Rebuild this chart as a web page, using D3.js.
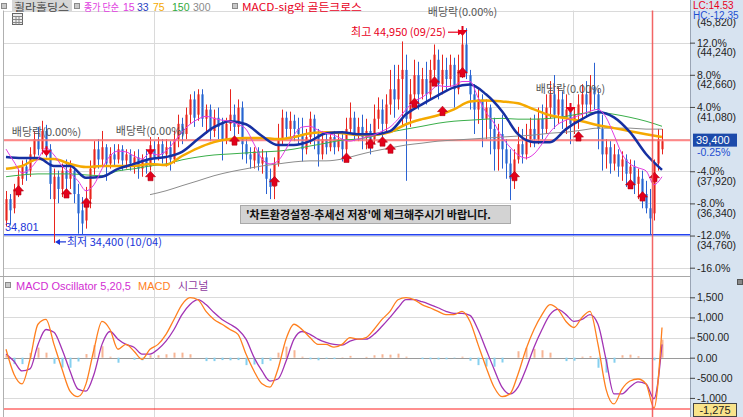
<!DOCTYPE html>
<html>
<head>
<meta charset="utf-8">
<script src="https://cdn.jsdelivr.net/npm/d3@7"></script>
<style>
body { margin: 0; background: #fff; overflow: hidden; }
svg { display: block; }
text { font-family: "Liberation Sans", Arial, sans-serif; }
.kr { font-family: "Noto Sans CJK KR", "Noto Sans", sans-serif; }
</style>
</head>
<body>
<div id="chart-area"></div>
<script>
// daily candles (oldest -> newest)
var open = [35500,36550,36100,37050,37550,38150,37950,38750,39500,39000,39900,39000,36550,37650,37050,37950,37550,37950,36800,36000,
  35500,36550,38050,39000,38500,39100,38300,38750,38500,39000,38450,38750,38300,38600,38050,38450,38150,39000,38600,39250,
  38750,39100,38500,39500,40250,39750,40700,41450,40700,41700,40500,40950,39900,40550,40250,39500,40250,40700,40100,41050,
  39250,38750,38450,38900,38300,38600,37550,37150,38300,39500,40550,40000,40400,40000,39750,39000,39600,40500,39750,38750,
  39500,39100,39600,39100,39500,39000,40000,40550,39750,40100,39600,39900,39500,40500,40950,40250,41200,41950,41450,42450,
  42900,40500,41700,42650,41700,42450,41700,42900,43400,42200,42900,42450,43150,41950,42900,44150,42650,41700,40950,41450,
  40500,41050,40000,39000,39750,39000,38300,37550,38500,39250,38750,39500,40000,39500,40500,40000,41050,41700,40700,41450,
  40550,40950,40250,40700,41200,41700,41200,42050,41700,40000,38750,39100,38300,38750,38150,38500,37800,38150,37300,37550,
  36800,36100,35850,38300,39000];
var high = [36950,36800,37300,38050,38450,38500,39100,39900,40100,40400,40200,39250,38050,37950,38300,38500,38450,38150,37300,36650,
  37150,38450,39400,39500,39900,39250,39100,39250,39250,39200,39000,39000,38900,39000,38750,39000,39600,39400,39600,39500,
  39500,39400,39900,40700,40550,41050,41700,41850,41950,41950,41200,41200,40950,41050,40550,40550,41950,41200,41450,41350,
  39500,39100,39100,39100,39000,38900,38050,38600,40250,40950,40850,40850,40700,40550,40550,40000,40850,40700,40000,39900,
  39750,39850,39900,39750,39900,40550,41300,40850,40550,40700,40500,40250,41200,41550,41450,41700,42900,43150,43150,44300,
  43650,42450,43400,43300,43000,43300,43400,44150,43900,43650,43500,43650,43500,43650,44700,44950,42900,42200,41950,41700,
  41450,41200,40550,40250,40700,39500,39000,39000,40100,40000,40250,40550,40700,41050,41200,41700,42350,42650,42050,41850,
  41700,41200,41050,41700,42200,42350,42650,43250,41950,40700,39500,39400,39250,39000,38900,38750,38500,38450,38050,37950,
  37450,37050,38500,40000,40000];
var low = [35200,35300,35850,36650,37250,37450,37650,38500,38700,38750,38600,36550,34400,36350,36650,36950,37050,36350,34850,34800,
  35100,36100,37750,38050,38150,37450,38050,38150,38300,37950,38050,37950,37800,37550,37650,37800,37950,38300,38450,38300,
  38150,37950,38300,39100,39250,39500,40250,40100,40400,40100,39750,39400,39600,39500,38450,39250,39900,39500,39750,38500,
  38300,38050,38050,37950,37800,36800,36550,36550,38150,39250,39500,39500,39400,39250,38400,38750,39250,39000,38150,38500,
  38750,38900,38750,38900,38400,38750,39750,39400,39400,39000,39000,38750,39250,40000,39600,39750,40700,40550,40950,40100,
  37450,40100,41050,40950,41450,41200,41450,42350,41450,41700,41850,42050,41050,41700,42500,42450,40950,39750,40250,39100,
  39500,38750,37950,37950,38050,37550,36500,37050,38300,38300,38500,39100,39100,39250,39500,39750,40500,40000,40250,40000,
  39750,39250,39750,40000,40500,40550,40850,40950,39000,37950,38050,37800,37950,37650,37450,37150,37050,36800,36550,36100,
  35850,34800,35500,37950,38750];
var close = [36550,36000,37050,37650,38150,37800,38750,39500,39000,39900,39000,37300,37650,37050,37950,37550,38050,36800,35850,35350,
  36550,38050,39000,38500,39100,38300,38750,38500,39000,38450,38750,38300,38600,38050,38500,38150,39000,38600,39250,38750,
  39100,38500,39500,40250,39750,40700,41450,40550,41700,40500,40950,39900,40550,40100,39500,40250,40700,40100,41050,39250,
  38750,38500,38900,38300,38600,37550,37150,38300,39500,40550,40000,40400,40000,39750,39000,39600,40500,39750,38750,39500,
  39100,39600,39100,39500,39000,40000,40550,39750,40100,39600,39900,39500,40500,40950,40250,41200,41950,41450,42450,42900,
  40500,41700,42650,41700,42450,41700,42900,43650,42200,42900,42450,43150,41950,42900,44150,42800,41700,40950,41450,40500,
  41050,40000,39000,39750,39000,38300,37550,38500,39250,38750,39500,40000,39500,40500,40000,41050,41700,40700,41450,40550,
  40950,40250,40700,41200,41700,41200,42050,41700,40000,38750,39100,38300,38750,38150,38500,37800,38150,37300,37650,36800,
  36100,35600,38300,39500,39400];

// moving averages: ma15 every 2nd candle, the others every 4th candle
var ma15 = [39010,38380,37840,38040,38520,39060,38720,38180,37840,37450,36960,37260,38040,38670,38910,38870,38670,38520,38820,38720,
  38910,39350,39840,40230,40480,40620,40520,40430,40380,40230,39990,39260,38520,38280,38430,39010,39700,40090,40130,39940,
  39790,39700,39500,39400,39500,39600,39700,39890,40090,40480,40960,41350,41550,41840,42130,42080,42130,42330,42330,41550,
  40820,40290,39600,39110,38720,38570,38770,39260,39840,40230,40430,40570,40720,40870,40960,40570,39700,38770,38280,38090,
  37940,37260,37650];
var ma33 = [38620,38570,38570,38180,38180,37600,37650,38040,38280,38520,38620,38870,39500,40090,40380,40230,39650,39210,39210,39400,
  39790,39840,39740,39740,39890,40720,41210,41650,42040,42180,41700,40870,39740,39350,39350,39990,40480,40820,40570,39840,
  38770,37990];
var ma75 = [38040,38180,38520,38520,38280,38130,38180,38180,38180,38280,38230,38670,39060,39350,39500,39550,39550,39500,39600,39790,
  39840,39790,39700,39700,39840,40230,40480,40670,40960,41350,41400,41350,41260,40960,40670,40520,40380,40180,40040,39890,
  39740,39600];
var ma150 = [37650,37740,37790,37790,37790,37740,37700,37940,38040,38180,38280,38480,38620,38720,38770,38820,38870,38910,39010,39160,
  39300,39450,39500,39650,39840,39990,40130,40280,40380,40430,40480,40520,40480,40480,40520,40620,40760,40820,40720,40570,
  40380,40130];
var ma300 = [36770,36960,37210,37450,37700,37890,38040,38180,38280,38380,38430,38430,38520,38720,38910,39060,39210,39300,39400,39450,
  39500,39550,39600,39650,39700,39790,39840,39940,40040,40040,40040,39990,39990];
var ma300Start = 36;

// MACD 5,20,5 (every 2nd candle)
var macd = [210,-410,-650,-40,830,950,330,-280,-830,-970,-650,210,900,700,210,330,160,-40,210,330,
  580,950,1320,1490,1440,1150,950,830,700,580,90,-330,-650,-730,-280,460,830,700,500,330,
  330,260,330,500,460,500,700,950,1150,1440,1490,1440,1320,1240,1150,1070,1070,1150,900,330,
  -230,-730,-970,-900,-410,210,700,1070,1320,1200,900,750,1000,1150,330,-780,-1150,-780,-580,-530,
  -650,-1250,750];
var signal = [90,-90,-330,-280,330,700,630,210,-330,-780,-830,-410,330,650,460,330,260,90,90,210,
  410,700,1070,1320,1440,1320,1120,950,830,700,460,10,-330,-580,-530,-90,460,650,580,460,
  380,330,310,410,460,460,580,780,1000,1240,1440,1440,1390,1320,1240,1150,1100,1100,1050,700,
  210,-280,-730,-900,-730,-280,260,700,1070,1200,1070,900,950,1070,830,-40,-900,-900,-730,-600,
  -650,-1020,330];
var osc = [60,-160,-160,120,250,125,-150,-245,-250,-95,90,310,285,25,-125,0,-50,-65,60,60,
  85,125,125,85,0,-85,-85,-60,-65,-60,-185,-170,-160,-75,125,275,185,25,-40,-65,
  -25,-35,10,45,0,20,60,85,75,100,25,0,-35,-40,-45,-40,-15,25,-75,-185,
  -220,-225,-120,0,160,245,220,185,125,0,-85,-75,25,40,-250,-370,-125,60,75,35,
  0,-65,450];

// signals
var buyIdx = [3,15,20,36,57,67,85,91,94,96,102,107,109,114,127,143,156,159,162];
var buyPrice = [36950,36800,36350,37650,39400,37400,38550,39250,39350,39000,41250,42300,40850,42750,37650,39600,37250,36650,37600];
var exDivIdx = [10,36,114,141];
var exDivPrice = [38800,38850,44720,40930];

var basePrice = 39500, lastPrice = 39400, lowMark = 34801;
var pctTicks = [16,12,8,4,0,-4,-8,-12,-16];
var macdTicks = [1500,1000,500,0,-500,-1000];
var macdTickText = ["1,500","1,000","500.00","0.00","-500.00","-1,000"];
var macdCursor = -1275;

var W = 743, H = 417;
var left = 4, right = 690, mainTop = 10.5, mainBot = 270, subTop = 277;

var svg = d3.select("#chart-area").append("svg")
	.attr("width", W).attr("height", H);

var x = d3.scaleLinear().domain([0, close.length - 1]).range([6, 662]);
var y = d3.scaleLinear().domain([basePrice * 0.84, basePrice * 1.16]).range([267.7, 10.5]);
var yM = d3.scaleLinear().domain([macdCursor, 1500]).range([409, 297.3]);

var defs = svg.append("defs");
defs.append("clipPath").attr("id", "clipMain").append("rect")
	.attr("x", left).attr("y", mainTop).attr("width", right - left).attr("height", mainBot - mainTop);
defs.append("clipPath").attr("id", "clipSub").append("rect")
	.attr("x", left).attr("y", subTop).attr("width", right - left).attr("height", H - subTop);

// right axis background
svg.append("rect").attr("x", right).attr("y", 0).attr("width", W - right).attr("height", H).attr("fill", "#d7e3f0");

// grid
svg.append("g").selectAll("line").data(pctTicks).enter().append("line")
	.attr("x1", left).attr("x2", right)
	.attr("y1", function(p) { return Math.round(y(basePrice * (1 + p / 100))) + 0.5; })
	.attr("y2", function(p) { return Math.round(y(basePrice * (1 + p / 100))) + 0.5; })
	.attr("stroke", "#dadada");
svg.append("g").selectAll("line").data(macdTicks).enter().append("line")
	.attr("x1", left).attr("x2", right)
	.attr("y1", function(d) { return Math.round(yM(d)) + 0.5; })
	.attr("y2", function(d) { return Math.round(yM(d)) + 0.5; })
	.attr("stroke", function(d) { return d === 0 ? "#9a9a9a" : "#dadada"; });
[154.5, 573.5].forEach(function(gx) {
	svg.append("line").attr("x1", gx).attr("x2", gx).attr("y1", mainTop).attr("y2", H).attr("stroke", "#dadada");
});
// frame lines
svg.append("line").attr("x1", 3.5).attr("x2", 3.5).attr("y1", mainTop).attr("y2", H).attr("stroke", "#b0b0b0");
svg.append("line").attr("x1", 0).attr("x2", right).attr("y1", 276.5).attr("y2", 276.5).attr("stroke", "#a8a8a8");
svg.append("line").attr("x1", right + 0.5).attr("x2", right + 0.5).attr("y1", 0).attr("y2", H).attr("stroke", "#9aa5b5");

// ---------- main panel ----------
var main = svg.append("g").attr("clip-path", "url(#clipMain)");

// lowest-line
main.append("line").attr("x1", left).attr("x2", right)
	.attr("y1", y(lowMark)).attr("y2", y(lowMark))
	.attr("stroke", "#2343f0").attr("stroke-width", 1.5);

var candles = d3.range(close.length).map(function(i) {
	return { i: i, o: open[i], h: high[i], l: low[i], c: close[i] };
});

var cg = main.append("g").selectAll("g").data(candles).enter().append("g");
cg.append("rect")
	.attr("x", function(d) { return x(d.i) - 1; })
	.attr("width", 3)
	.attr("y", function(d) { return y(Math.max(d.o, d.c)); })
	.attr("height", function(d) { return Math.max(1, Math.abs(y(d.o) - y(d.c))); })
	.attr("fill", function(d) { return d.c >= d.o ? "#f3847e" : "#79a5e3"; });
cg.append("line")
	.attr("x1", function(d) { return x(d.i) + 0.5; })
	.attr("x2", function(d) { return x(d.i) + 0.5; })
	.attr("y1", function(d) { return y(d.h); })
	.attr("y2", function(d) { return y(d.l); })
	.attr("stroke", function(d) { return d.c >= d.o ? "#e8241e" : "#2a62d2"; });

// current price line
main.append("line").attr("x1", left).attr("x2", right)
	.attr("y1", y(lastPrice) - 1).attr("y2", y(lastPrice) - 1)
	.attr("stroke", "#ff7474").attr("stroke-width", 2).attr("opacity", 0.85);

function maPath(vals, step, start) {
	return d3.line()
		.x(function(d, k) { return x(start + k * step); })
		.y(function(d) { return y(d); })
		.curve(d3.curveMonotoneX)(vals);
}
main.append("path").attr("d", maPath(ma300, 4, ma300Start)).attr("fill", "none").attr("stroke", "#8c8c8c").attr("stroke-width", 1);
main.append("path").attr("d", maPath(ma150, 4, 0)).attr("fill", "none").attr("stroke", "#3aae4a").attr("stroke-width", 1);
main.append("path").attr("d", maPath(ma75, 4, 0)).attr("fill", "none").attr("stroke", "#f5a900").attr("stroke-width", 2.5);
main.append("path").attr("d", maPath(ma33, 4, 0)).attr("fill", "none").attr("stroke", "#1630a2").attr("stroke-width", 2.5);
main.append("path").attr("d", maPath(ma15, 2, 0)).attr("fill", "none").attr("stroke", "#e23de0").attr("stroke-width", 1);

// buy arrows (MACD-sig golden cross)
main.append("g").selectAll("path").data(buyIdx).enter().append("path")
	.attr("d", function(idx, k) {
		var cx = x(idx) + 0.5, cy = y(buyPrice[k]);
		return "M" + (cx - 5) + "," + cy + "L" + cx + "," + (cy - 5.5) + "L" + (cx + 5) + "," + cy +
			"L" + (cx + 2.5) + "," + cy + "L" + (cx + 2.5) + "," + (cy + 4) + "L" + (cx - 2.5) + "," + (cy + 4) +
			"L" + (cx - 2.5) + "," + cy + "Z";
	})
	.attr("fill", "#e3001b").attr("stroke", "#b00012").attr("stroke-width", 0.6);

// ex-dividend markers
exDivIdx.forEach(function(idx, k) {
	var cx = x(idx) + 0.5, cy = y(exDivPrice[k]);
	main.append("path")
		.attr("d", "M" + (cx - 1) + "," + (cy - 7) + "L" + (cx + 1) + "," + (cy - 7) + "L" + (cx + 1) + "," + (cy - 3) +
			"L" + (cx + 5) + "," + (cy - 3) + "L" + cx + "," + (cy + 3) + "L" + (cx - 5) + "," + (cy - 3) +
			"L" + (cx - 1) + "," + (cy - 3) + "Z")
		.attr("fill", "#e3001b");
	svg.append("text").attr("class", "kr")
		.attr("x", cx).attr("y", cy - 17)
		.attr("text-anchor", "middle")
		.attr("font-size", "11px")
		.attr("fill", "#555")
		.text("배당락(0.00%)");
});

// high / low annotations
var hiIdx = high.indexOf(d3.max(high)), loIdx = low.indexOf(d3.min(low));
svg.append("text").attr("class", "kr")
	.attr("x", x(hiIdx) - 20).attr("y", y(d3.max(high)) + 8)
	.attr("text-anchor", "end").attr("font-size", "11px").attr("fill", "#e8001c")
	.text("최고 " + d3.format(",")(d3.max(high)) + " (09/25)");
svg.append("line").attr("x1", x(hiIdx) - 18).attr("x2", x(hiIdx) - 6)
	.attr("y1", y(d3.max(high)) + 4).attr("y2", y(d3.max(high)) + 4)
	.attr("stroke", "#e8001c").attr("stroke-width", 1.2);
svg.append("path")
	.attr("d", "M" + (x(hiIdx) - 3) + "," + (y(d3.max(high)) + 4) + "l-5,-3v6z")
	.attr("fill", "#e8001c");

svg.append("path")
	.attr("d", "M" + (x(loIdx) + 1) + "," + (y(d3.min(low)) - 1) + "l5,-3v6z")
	.attr("fill", "#1a35d8");
svg.append("line").attr("x1", x(loIdx) + 5).attr("x2", x(loIdx) + 12)
	.attr("y1", y(d3.min(low)) - 1).attr("y2", y(d3.min(low)) - 1)
	.attr("stroke", "#1a35d8").attr("stroke-width", 1.2);
svg.append("text").attr("class", "kr")
	.attr("x", x(loIdx) + 13).attr("y", y(d3.min(low)) + 3)
	.attr("font-size", "11px").attr("fill", "#1a35d8")
	.text("최저 " + d3.format(",")(d3.min(low)) + " (10/04)");

svg.append("text")
	.attr("x", 5).attr("y", y(lowMark) - 4)
	.attr("font-size", "11px").attr("fill", "#1a35d8")
	.text(d3.format(",")(lowMark));

// notice box
svg.append("rect").attr("x", 240.5).attr("y", 205.5).attr("width", 270).attr("height", 18)
	.attr("fill", "#d3d3d3").attr("stroke", "#a9a9a9");
svg.append("text").attr("class", "kr")
	.attr("x", 246).attr("y", 218.5)
	.attr("font-size", "11px").attr("font-weight", "bold").attr("fill", "#111")
	.text("'차트환경설정-추세선 저장'에 체크해주시기 바랍니다.");

// ---------- MACD panel ----------
var sub = svg.append("g").attr("clip-path", "url(#clipSub)");
sub.append("g").selectAll("rect").data(osc).enter().append("rect")
	.attr("x", function(d, k) { return x(k * 2) - 0.5; })
	.attr("width", 2)
	.attr("y", function(d) { return Math.min(yM(d), yM(0)); })
	.attr("height", function(d) { return Math.abs(yM(d) - yM(0)); })
	.attr("fill", function(d) { return d >= 0 ? "#f7b595" : "#85d0ef"; });

var mLine = d3.line()
	.x(function(d, k) { return x(k * 2); })
	.y(function(d) { return yM(d); })
	.curve(d3.curveMonotoneX);
sub.append("path").attr("d", mLine(signal)).attr("fill", "none").attr("stroke", "#a233b4").attr("stroke-width", 1.3);
sub.append("path").attr("d", mLine(macd)).attr("fill", "none").attr("stroke", "#ff7f1e").attr("stroke-width", 1.3);

sub.append("line").attr("x1", left).attr("x2", right)
	.attr("y1", yM(macdCursor)).attr("y2", yM(macdCursor))
	.attr("stroke", "#ff2020").attr("stroke-width", 1.2);

// cursor line
svg.append("line").attr("x1", 652.5).attr("x2", 652.5).attr("y1", mainTop).attr("y2", H)
	.attr("stroke", "#f25555").attr("stroke-width", 1.5).attr("opacity", 0.9);

// ---------- right axes ----------
var axisTicks = pctTicks.filter(function(p) { return p !== 0 && p !== 16; });
var yAxisCall = d3.axisRight(y)
	.tickValues(axisTicks.map(function(p) { return basePrice * (1 + p / 100); }))
	.tickSize(5)
	.tickFormat(function(d, i) {
		var p = axisTicks[i];
		return (p < 0 ? "-" : "") + Math.abs(p).toFixed(1) + "%";
	});
var ya = svg.append("g").attr("transform", "translate(" + right + ",0)").call(yAxisCall);
ya.select(".domain").remove();
ya.selectAll("line").attr("stroke", "#444");
ya.selectAll("text").attr("x", 7).attr("fill", "#222").attr("font-size", "10.5px")
	.attr("font-family", "Liberation Sans, Arial, sans-serif");
ya.selectAll(".tick").filter(function(d, i) { return axisTicks[i] !== -16; })
	.append("text")
	.attr("x", 7).attr("dy", "1.25em")
	.attr("fill", "#222").attr("font-size", "10.5px")
	.attr("font-family", "Liberation Sans, Arial, sans-serif")
	.text(function(d) { return "(" + d3.format(",")(Math.round(d)) + ")"; });
// top price label, half hidden under the LC/HC labels
svg.append("text").attr("x", right + 7).attr("y", y(basePrice * 1.16) + 15)
	.attr("fill", "#222").attr("font-size", "10.5px")
	.text("(" + d3.format(",")(Math.round(basePrice * 1.16)) + ")");

var mAxisCall = d3.axisRight(yM)
	.tickValues(macdTicks)
	.tickSize(5)
	.tickFormat(function(d, i) { return macdTickText[i]; });
var ma = svg.append("g").attr("transform", "translate(" + right + ",0)").call(mAxisCall);
ma.select(".domain").remove();
ma.selectAll("line").attr("stroke", "#444");
ma.selectAll("text").attr("x", 7).attr("fill", "#222").attr("font-size", "10.5px")
	.attr("font-family", "Liberation Sans, Arial, sans-serif");

// current price box
svg.append("rect").attr("x", 693).attr("y", y(lastPrice) - 7.5).attr("width", 44).attr("height", 13).attr("fill", "#1c4aaa");
svg.append("text").attr("x", 696).attr("y", y(lastPrice) + 3)
	.attr("font-size", "11px").attr("fill", "#fff").text(d3.format(",")(lastPrice));
svg.append("text").attr("x", 697).attr("y", y(lastPrice) + 15)
	.attr("font-size", "10.5px").attr("fill", "#1f4fd0")
	.text(((lastPrice / basePrice - 1) * 100).toFixed(2) + "%");

// MACD cursor value box
svg.append("rect").attr("x", 693.5).attr("y", 403.5).attr("width", 43).attr("height", 13)
	.attr("fill", "#f9e38a").attr("stroke", "#444");
svg.append("text").attr("x", 715).attr("y", 414).attr("text-anchor", "middle")
	.attr("font-size", "11px").attr("fill", "#222").text(d3.format(",")(macdCursor).replace("−", "-"));

// LC / HC labels
svg.append("rect").attr("x", right + 1).attr("y", 0).attr("width", W - right).attr("height", 19).attr("fill", "#d7e3f0");
svg.append("text").attr("x", 693).attr("y", 9).attr("font-size", "10px").attr("fill", "#e8001c").text("LC:14.53");
svg.append("text").attr("x", 693).attr("y", 18.5).attr("font-size", "10px").attr("fill", "#1f4fd0").text("HC:-12.35");

// ---------- header / legends ----------
function bullet(bx, by) {
	svg.append("rect").attr("x", bx + 0.5).attr("y", by + 0.5).attr("width", 5).attr("height", 5)
		.attr("fill", "#c8c8c8").attr("stroke", "#8a8a8a");
}
bullet(1, 3); bullet(74, 3); bullet(232, 3);
svg.append("rect").attr("x", 12).attr("y", 0).attr("width", 60).attr("height", 11).attr("fill", "#d6d6d6");
var header = [
	{ t: "휠라홀딩스", x: 14, w: 55, c: "#444", kr: true },
	{ t: "종가 단순", x: 84, w: 35, c: "#e03ce0", kr: true },
	{ t: "15", x: 123, w: 0, c: "#e03ce0", kr: false },
	{ t: "33", x: 137, w: 0, c: "#2a3fc0", kr: false },
	{ t: "75", x: 153, w: 0, c: "#f5a900", kr: false },
	{ t: "150", x: 172, w: 0, c: "#2faa3c", kr: false },
	{ t: "300", x: 193, w: 0, c: "#8a8a8a", kr: false },
	{ t: "MACD-sig와 골든크로스", x: 242, w: 120, c: "#e8001c", kr: true }
];
var ht = svg.append("g").selectAll("text").data(header).enter().append("text")
	.attr("class", function(d) { return d.kr ? "kr" : null; })
	.attr("x", function(d) { return d.x; }).attr("y", 10.5)
	.attr("font-size", function(d) { return d.kr ? "10px" : "10.5px"; })
	.attr("fill", function(d) { return d.c; })
	.text(function(d) { return d.t; });
ht.filter(function(d) { return d.w > 0; })
	.attr("textLength", function(d) { return d.w; })
	.attr("lengthAdjust", "spacingAndGlyphs");

// table icon
var icon = svg.append("g").attr("transform", "translate(12.5,13.5)");
icon.append("rect").attr("width", 10).attr("height", 11).attr("fill", "#eee").attr("stroke", "#666");
[3, 6, 9].forEach(function(v) { icon.append("line").attr("x1", 0).attr("x2", 10).attr("y1", v).attr("y2", v).attr("stroke", "#888"); });
[3.5, 6.5].forEach(function(v) { icon.append("line").attr("x1", v).attr("x2", v).attr("y1", 3).attr("y2", 11).attr("stroke", "#888"); });

// MACD legend
bullet(5, 282);
var legend = [
	{ t: "MACD Oscillator 5,20,5", x: 16, c: "#d22ed2", kr: false },
	{ t: "MACD", x: 138, c: "#ff7f1e", kr: false },
	{ t: "시그널", x: 178, c: "#8e3aa0", kr: true }
];
svg.append("g").selectAll("text").data(legend).enter().append("text")
	.attr("class", function(d) { return d.kr ? "kr" : null; })
	.attr("x", function(d) { return d.x; }).attr("y", 289.5)
	.attr("font-size", "11px")
	.attr("fill", function(d) { return d.c; })
	.text(function(d) { return d.t; });
svg.append("rect").attr("x", 737.5).attr("y", 279.5).attr("width", 5).attr("height", 5)
	.attr("fill", "#888").attr("stroke", "#555");
</script>
</body>
</html>
